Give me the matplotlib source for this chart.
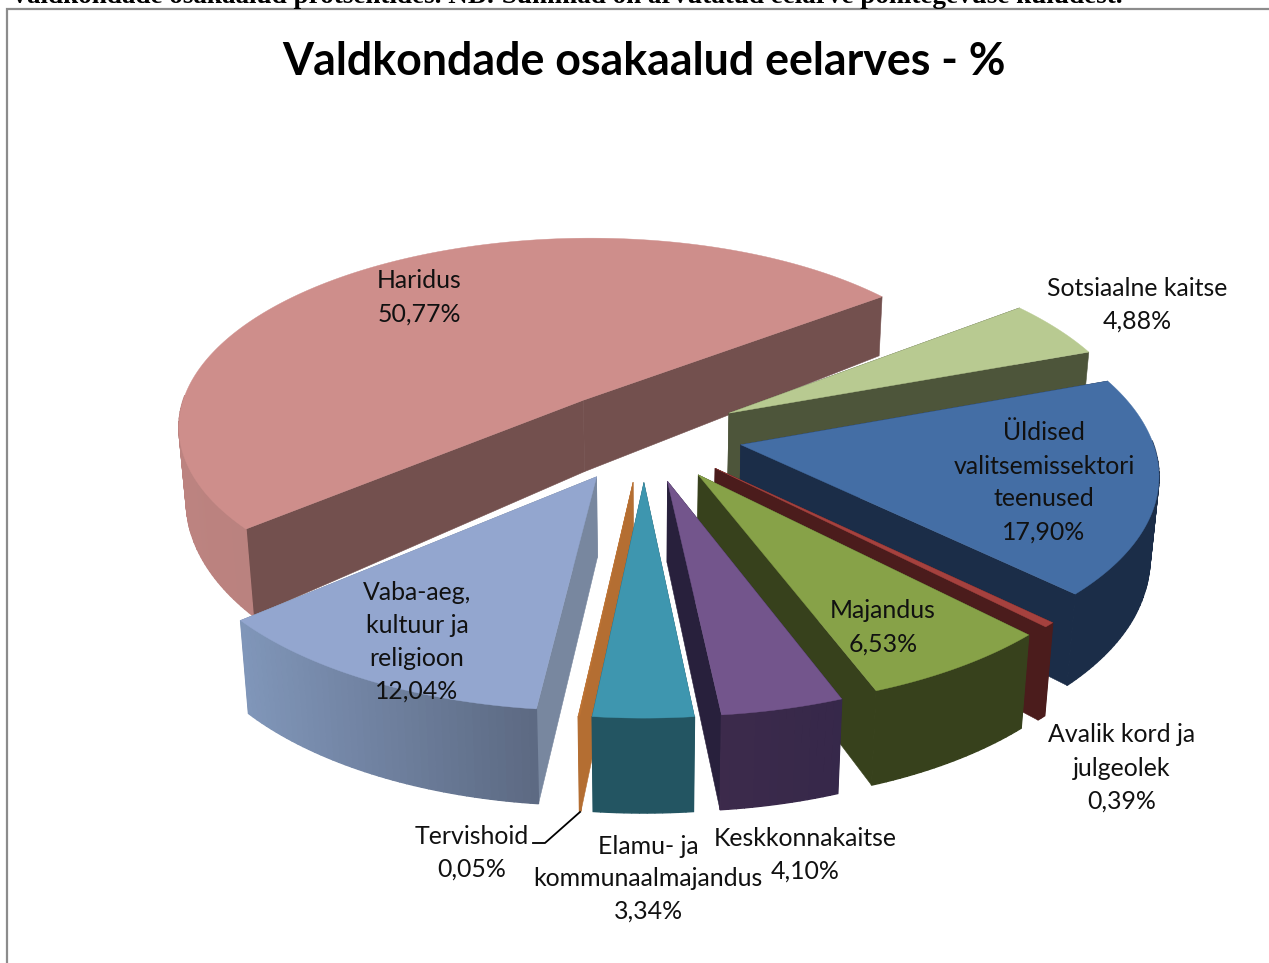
import numpy as np
import matplotlib
matplotlib.use("Agg")
import matplotlib.pyplot as plt
from matplotlib.colors import to_rgb

# ---- data ----
categories = ["Haridus", "Sotsiaalne kaitse", "Üldised valitsemissektori teenused",
              "Avalik kord ja julgeolek", "Majandus", "Keskkonnakaitse",
              "Elamu- ja kommunaalmajandus", "Tervishoid", "Vaba-aeg, kultuur ja religioon"]
values = [50.77, 4.88, 17.90, 0.39, 6.53, 4.10, 3.34, 0.05, 12.04]
label_lines = [["Haridus"], ["Sotsiaalne kaitse"], ["Üldised", "valitsemissektori", "teenused"],
               ["Avalik kord ja", "julgeolek"], ["Majandus"], ["Keskkonnakaitse"],
               ["Elamu- ja", "kommunaalmajandus"], ["Tervishoid"], ["Vaba-aeg,", "kultuur ja", "religioon"]]
title = "Valdkondade osakaalud eelarves - %"
caption = "Valdkondade osakaalud protsentides. NB: Summad on arvutatud eelarve põhitegevuse kuludest."

# ---- style / layout ----
W, H = 1269, 963
CX, CY, R, K, G = 644.0, 435.0, 410.0, 191.5, 0.13
EXPLODE = 0.24
START = 220.4
SHRINK = 0.02
top_colors = ["#CE8E8B", "#B8CA91", "#446EA5", "#A5413E", "#87A248", "#73558C", "#3E96AF", "#BE7332", "#93A6CF"]
radial_colors = ["#73504E", "#4D553A", "#1B2D48", "#4B1C1C", "#37411C", "#28203C", "#235562", "#B46E32", "#78879F"]
side_left = ["#BC8380", "#4D553A", "#1B2D48", "#4B1C1C", "#37411C", "#3C2A4B", "#235562", "#B46E32", "#8096B9"]
side_right = ["#A87470", "#4D553A", "#1B2D48", "#4B1C1C", "#37411C", "#36284A", "#235562", "#B46E32", "#5C6982"]
draw_order = [0, 1, 2, 3, 4, 5, 8, 7, 6]
label_x = [419, 1137, 1044, 1122, 883, 805, 648, 472, 417]
label_y = [281, 288, 433, 735, 611, 838, 847, 836, 593]
label_pitch = [33, 33, 33, 33, 33, 33, 32, 33, 32.7]
FONT = "Lato"


def project(x, y):
    w = 1 + G * y
    px = CX + R * x / w
    py = CY - K * y / w
    d = np.interp(py, [296, 530, 620, 720], [59, 87, 93, 95])
    bx = CX + (px - CX) * (1 - SHRINK * d / 95)
    return px, py, bx, py + d


fig = plt.figure(figsize=(W / 100, H / 100), dpi=100, facecolor="white")
ax = fig.add_axes([0, 0, 1, 1])
ax.set_xlim(0, W)
ax.set_ylim(H, 0)
ax.axis("off")

# frame
ax.plot([7, 7, W], [H, 9, 9], color="#8C8C8C", lw=1.6, solid_joinstyle="miter", zorder=1)

vals = np.array(values)
sweeps = vals / vals.sum() * 360
starts = START - np.concatenate([[0], np.cumsum(sweeps)[:-1]])

z = 2
for i in draw_order:
    a0, a1 = starts[i], starts[i] - sweeps[i]
    mid = np.radians((a0 + a1) / 2)
    ox, oy = EXPLODE * np.cos(mid), EXPLODE * np.sin(mid)
    n = max(2, int(abs(a0 - a1)) + 2)
    th = np.radians(np.linspace(a0, a1, n))
    px, py, bx, by = project(ox + np.cos(th), oy + np.sin(th))
    vx, vy, vbx, vby = project(ox, oy)
    # radial faces
    for k in (0, -1):
        ax.fill([vx, px[k], bx[k], vbx], [vy, py[k], by[k], vby], fc=radial_colors[i],
                ec=radial_colors[i], lw=0.4, zorder=z)
    z += 1
    # curved outer side with a left-to-right shade (only the part facing the viewer)
    cl, cr = np.array(to_rgb(side_left[i])), np.array(to_rgb(side_right[i]))
    lo, hi = px.min(), px.max()
    for k in range(n - 1):
        if np.sin((th[k] + th[k + 1]) / 2) > 0.03:
            continue
        t = ((px[k] + px[k + 1]) / 2 - lo) / max(hi - lo, 1)
        col = cl + (cr - cl) * t
        ax.fill([px[k], px[k + 1], bx[k + 1], bx[k]], [py[k], py[k + 1], by[k + 1], by[k]],
                fc=col, ec=col, lw=1.0, zorder=z)
    z += 1
    # top face
    ax.fill(np.r_[vx, px], np.r_[vy, py], fc=top_colors[i], ec=top_colors[i], lw=0.3, zorder=z)
    z += 1

# labels
for i, lines in enumerate(label_lines):
    pct = f"{values[i]:.2f}".replace(".", ",") + "%"
    for j, line in enumerate(lines + [pct]):
        ax.text(label_x[i], label_y[i] + j * label_pitch[i], line, ha="center", va="center",
                family=FONT, fontsize=17.9, color="#111111", zorder=100)

# leader line for the thinnest slice
ax.plot([533, 545, 580], [843, 843, 812], color="black", lw=1.3, zorder=100)

ax.text(644, 62, title, ha="center", va="center", family=FONT, fontweight="bold",
        fontsize=32.2, color="black", zorder=100)
ax.text(10, 3, caption, ha="left", va="baseline", family="Liberation Serif", fontweight="bold",
        fontsize=19.55, color="black", zorder=100)

fig.savefig("out.png", dpi=100, facecolor="white")
